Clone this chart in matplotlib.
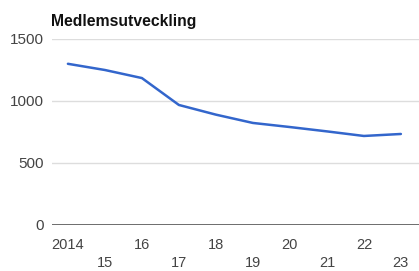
import matplotlib.pyplot as plt

years = [2014, 2015, 2016, 2017, 2018, 2019, 2020, 2021, 2022, 2023]
members = [1300, 1250, 1185, 968, 890, 823, 790, 755, 718, 734]
tick_labels = ["2014", "15", "16", "17", "18", "19", "20", "21", "22", "23"]
y_ticks = [0, 500, 1000, 1500]

plt.rcParams["font.family"] = ["Liberation Sans", "DejaVu Sans"]

fig = plt.figure(figsize=(4.19, 2.71), dpi=100)
ax = fig.add_axes([52 / 419, 46 / 271, 1 - 52 / 419, 186 / 271])

ax.plot(years, members, color="#3366cc", linewidth=1.8, solid_capstyle="round", clip_on=False)

ax.set_ylim(0, 1500)
ax.set_xlim(2013.57, 2023.49)
ax.set_yticks(y_ticks)
ax.set_yticklabels([str(v) for v in y_ticks], color="#444444", fontsize=11)
ax.yaxis.grid(True, color="#dddddd", linewidth=1)
ax.axhline(0, color="#555555", linewidth=1.2, zorder=3)
ax.tick_params(axis="both", length=0, pad=6)

# alternating two-row year labels
ax.set_xticks(years)
ax.set_xticklabels([])
for i, (yr, lab) in enumerate(zip(years, tick_labels)):
    offset = -20 if i % 2 == 0 else -38
    ax.annotate(lab, xy=(yr, 0), xytext=(0, offset), textcoords="offset pixels",
                ha="center", va="center", fontsize=10.5, color="#444444")

for s in ax.spines.values():
    s.set_visible(False)
ax.set_axisbelow(True)

fig.text(51 / 419, 1 - 21 / 271, "Medlemsutveckling", fontsize=11.3, fontweight="bold",
         color="#111111", ha="left", va="center")

fig.savefig("out.png", dpi=100)
